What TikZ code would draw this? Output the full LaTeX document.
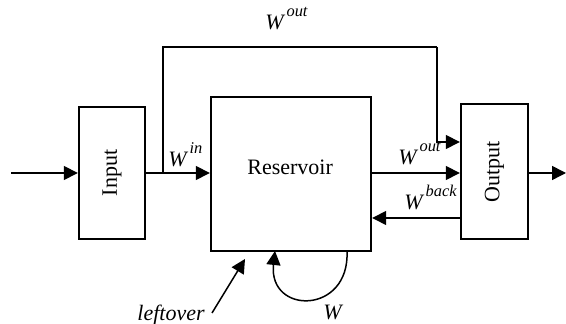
\documentclass[tikz,border=0pt]{standalone}
\usepackage{fontspec}
\setmainfont{Liberation Serif}
\usetikzlibrary{arrows.meta}

\newcommand{\Wsup}[1]{\textit{W}\hspace{0.6pt}\raisebox{0.62em}{\fontsize{8.2}{10}\selectfont\itshape #1}}

\begin{document}
\begin{tikzpicture}[x=0.5pt,y=-0.5pt,
  box/.style={draw,line width=1.2pt,inner sep=0pt},
  arr/.style={line width=0.75pt,-{Triangle[length=7pt,width=7pt]}},
  lbl/.style={inner sep=0pt,anchor=base west,font=\fontsize{11}{13}\selectfont}]

\useasboundingbox (0,0) rectangle (566,324);
\fontsize{11}{13}\selectfont

\node [box,minimum width=33pt,minimum height=66pt] (inp) at (112,173) {\rotatebox{90}{Input}};
\node [box,minimum width=80pt,minimum height=77pt] (res) at (291,174) {};
\node [lbl] (restext) at (247,175) {Reservoir};
\node [box,minimum width=33.5pt,minimum height=67.5pt] (out) at (494.5,171.5) {\rotatebox{90}{Output}};

\coordinate (src) at (11,173);
\coordinate (tap) at (163,173);
\coordinate (top) at (437,47);
\coordinate (fb) at (437,142);
\coordinate (snk) at (566,173);

\draw[arr] (src) -- (inp.west |- src);
\draw[arr] (inp.east |- src) -- (res.west |- src);
\draw[line width=0.75pt] (tap) |- (top);
\draw[arr] (top) -- (fb) -- (fb -| out.west);
\draw[arr] (res.east |- src) -- (out.west |- src);
\draw[arr] (out.west |- 0,218) -- (res.east |- 0,218);
\draw[arr] (out.east |- snk) -- (snk);

% self loop under the reservoir
\coordinate (lpA) at (347,251);
\coordinate (lpB) at (275,251);
\draw[arr] (lpA) .. controls (350,315) and (268,315) .. (lpB);

\node [lbl,anchor=base east] (lft) at (205,321) {\itshape leftover};
\coordinate (lftTip) at (245,259);
\draw[arr] (212,313) -- (lftTip);

\node [lbl] at (265,30) {\Wsup{out}};
\node [lbl] at (168,167) {\Wsup{in}};
\node [lbl] at (398,165) {\Wsup{out}};
\node [lbl] at (404,210) {\Wsup{back}};
\node [lbl] at (323,320) {\itshape W};

\end{tikzpicture}
\end{document}
